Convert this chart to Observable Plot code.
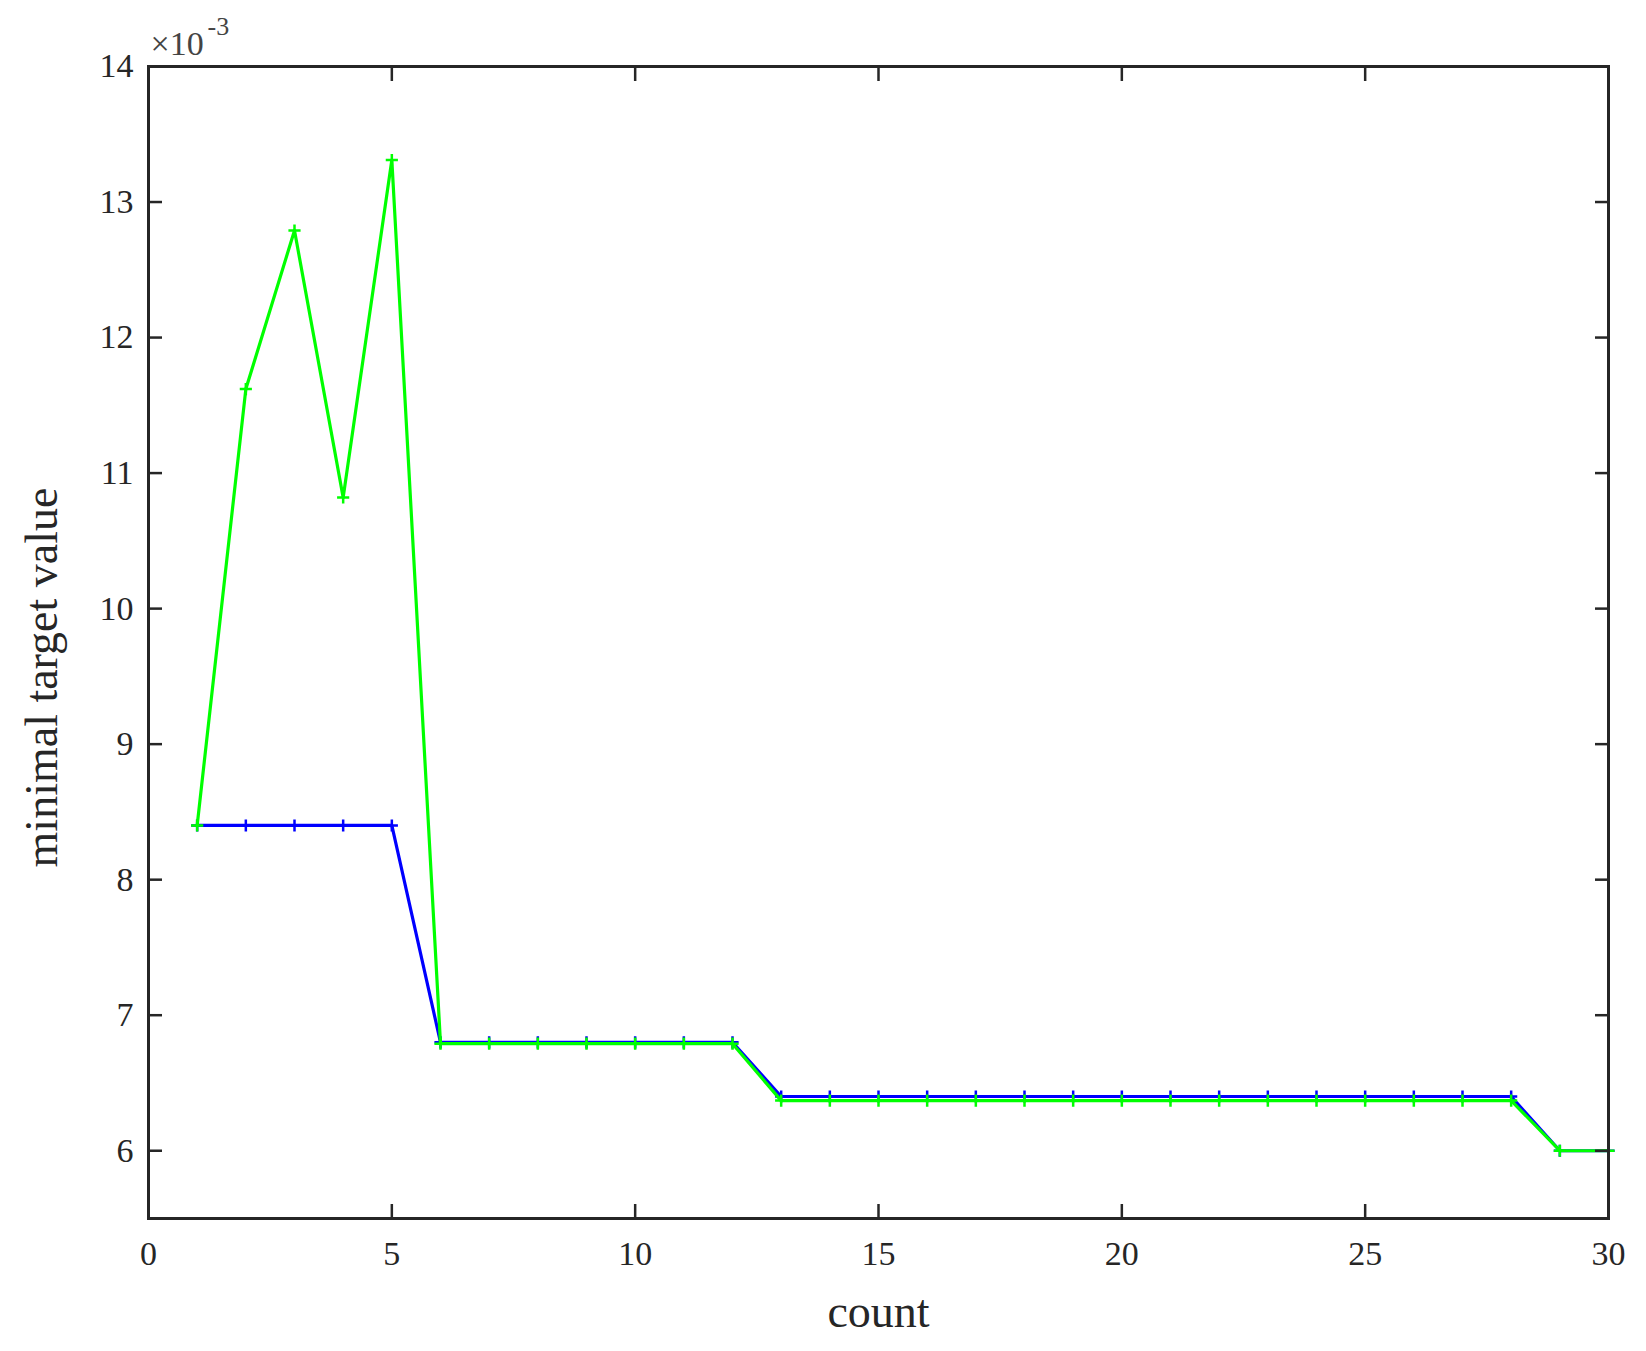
<!DOCTYPE html>
<html>
<head>
<meta charset="utf-8">
<script src="https://cdn.jsdelivr.net/npm/d3@7"></script>
<script src="https://cdn.jsdelivr.net/npm/@observablehq/plot@0.6"></script>
<style>
  html, body { margin: 0; padding: 0; background: #fff; }
  #chart svg { font-family: "Liberation Serif", "Times New Roman", serif; display: block; }
</style>
</head>
<body>
<div id="chart"></div>
<script>
const counts = [1,2,3,4,5,6,7,8,9,10,11,12,13,14,15,16,17,18,19,20,21,22,23,24,25,26,27,28,29,30];
const blueValues = [8.4,8.4,8.4,8.4,8.4,6.8,6.8,6.8,6.8,6.8,6.8,6.8,6.4,6.4,6.4,6.4,6.4,6.4,6.4,6.4,6.4,6.4,6.4,6.4,6.4,6.4,6.4,6.4,6.0,6.0];
const greenValues = [8.4,11.62,12.79,10.82,13.31,6.79,6.79,6.79,6.79,6.79,6.79,6.79,6.37,6.37,6.37,6.37,6.37,6.37,6.37,6.37,6.37,6.37,6.37,6.37,6.37,6.37,6.37,6.37,6.0,6.0];
const xTicks = [0,5,10,15,20,25,30];
const yTicks = [6,7,8,9,10,11,12,13,14];
const xDomain = [0, 30];
const yDomain = [5.5, 14];
const xLabel = "count";
const yLabel = "minimal target value";
const exponentBase = "×10";
const exponentPower = "-3";

const blue = counts.map((c, i) => ({x: c, y: blueValues[i]}));
const green = counts.map((c, i) => ({x: c, y: greenValues[i]}));

const axisColor = "#262626";
const tickFont = 34;
const labelFont = 46;

const chart = Plot.plot({
  width: 1646,
  height: 1351,
  marginLeft: 148,
  marginRight: 38,
  marginTop: 66,
  marginBottom: 133,
  style: {fontFamily: "Liberation Serif, Times New Roman, serif", background: "#fff"},
  x: {domain: xDomain},
  y: {domain: yDomain},
  marks: [
    Plot.line(blue, {x: "x", y: "y", stroke: "#0000ff", strokeWidth: 3.2}),
    Plot.dot(blue, {x: "x", y: "y", symbol: "plus", r: 4, stroke: "#0000ff", strokeWidth: 2.5}),
    Plot.line(green, {x: "x", y: "y", stroke: "#00ff00", strokeWidth: 3.2}),
    Plot.dot(green, {x: "x", y: "y", symbol: "plus", r: 4, stroke: "#00ff00", strokeWidth: 2.5}),
    // inward ticks on all four sides
    Plot.axisX(xTicks, {anchor: "bottom", tickSize: -14, text: null, label: null, stroke: axisColor, strokeWidth: 2.5}),
    Plot.axisX(xTicks, {anchor: "top", tickSize: -14, text: null, label: null, stroke: axisColor, strokeWidth: 2.5}),
    Plot.axisY(yTicks, {anchor: "left", tickSize: -14, text: null, label: null, stroke: axisColor, strokeWidth: 2.5}),
    Plot.axisY(yTicks, {anchor: "right", tickSize: -14, text: null, label: null, stroke: axisColor, strokeWidth: 2.5}),
    // tick labels
    Plot.axisX(xTicks, {anchor: "bottom", tickSize: 0, tickPadding: 22, fontSize: tickFont, fill: axisColor,
      tickFormat: d => String(d), label: null}),
    Plot.axisY(yTicks, {anchor: "left", tickSize: 0, tickPadding: 15, fontSize: tickFont, fill: axisColor,
      tickFormat: d => String(d), label: null}),
    // axis labels
    Plot.text([xLabel], {frameAnchor: "bottom", text: d => d, dy: 108, lineAnchor: "bottom", fontSize: labelFont, fill: axisColor}),
    Plot.text([yLabel], {frameAnchor: "left", text: d => d, dx: -106, dy: 35, rotate: -90, textAnchor: "middle", lineAnchor: "middle", fontSize: labelFont, fill: axisColor}),
    Plot.frame({stroke: axisColor, strokeWidth: 3}),
    Plot.text([exponentBase], {frameAnchor: "top-left", text: d => d, dx: 2, dy: -12, textAnchor: "start", lineAnchor: "bottom", fontSize: tickFont, fill: "#444"}),
    Plot.text([exponentPower], {frameAnchor: "top-left", text: d => d, dx: 59, dy: -32, textAnchor: "start", lineAnchor: "bottom", fontSize: 26, fill: "#444"})
  ]
});
document.getElementById("chart").appendChild(chart);
</script>
</body>
</html>
